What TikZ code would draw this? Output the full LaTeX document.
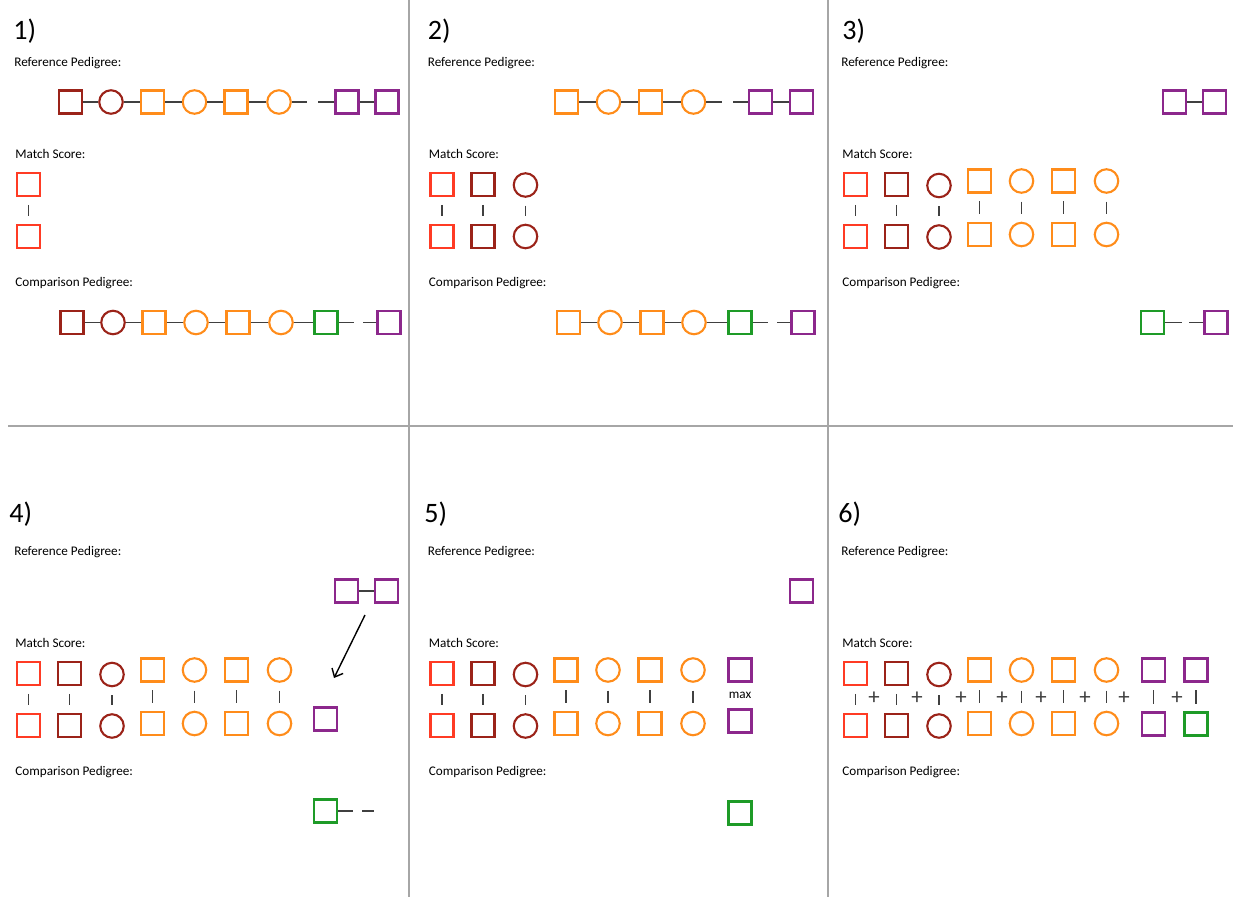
\documentclass[tikz,border=0pt]{standalone}
\usepackage{fontspec}
\setmainfont{Carlito}
\definecolor{pdred}{RGB}{255,59,36}
\definecolor{pddark}{RGB}{155,35,25}
\definecolor{pdorange}{RGB}{255,140,26}
\definecolor{pdpurple}{RGB}{140,40,140}
\definecolor{pdgreen}{RGB}{30,155,40}
\definecolor{pdgray}{RGB}{64,64,64}
\usetikzlibrary{arrows.meta,calc}

% the seven matched columns used from panel 3 on
\newcommand{\matchlist}{28.5/male/pdred/184.5/236.5, 69.5/male/pddark/184.5/236.5,
  112/female/pddark/185.5/237, 152.5/male/pdorange/181/234.5, 194.5/female/pdorange/181/234.5,
  236.5/male/pdorange/181/234.5, 279.5/female/pdorange/181/234.5}

\tikzset{
  male/.style={draw, rectangle, minimum size=0.46cm, inner sep=0pt, line width=1.2pt},
  female/.style={draw, circle, minimum size=0.47cm, inner sep=0pt, line width=1.2pt},
  link/.style={pdgray, line width=0.75pt},
  matchbar/.style={link, shorten <=4.5pt, shorten >=4.5pt},
  hdr/.style={font=\fontsize{7.5}{9}\selectfont, anchor=base west, inner sep=0pt},
  num/.style={font=\fontsize{16}{18}\selectfont, anchor=base west, inner sep=0pt},
  plussign/.style={font=\fontsize{13}{13}\selectfont, text=pdgray, inner sep=0pt},
  panel/.style={black!35, line width=0.6pt}
}

\begin{document}
\begin{tikzpicture}[x=0.02cm, y=-0.02cm]
  \useasboundingbox (0,0) rectangle (1233,897);
  % Panel frame
  \draw[panel] (409,0) -- (409,897);
  \draw[panel] (828,0) -- (828,897);
  \draw[panel] (8,426) -- (1233,426);

  % Headings of the six panels
  \foreach \p/\sx/\sy/\nx/\ny in {1/0/0/13/39, 2/413.5/0/14/39, 3/827/0/15/39,
                                  4/0/489/9/33, 5/413.5/489/10.5/33, 6/827/489/11/33} {
    \begin{scope}[shift={(\sx,\sy)}]
      \node[num] (n\p) at (\nx,\ny) {\p)};
      \node[hdr] (lr\p) at (14,66.5) {Reference Pedigree:};
      \node[hdr] (lm\p) at (15,158) {Match Score:};
      \node[hdr] (lc\p) at (15,286) {Comparison Pedigree:};
    \end{scope}
  }

  % Panel 1
  \foreach \x/\s/\c [count=\i] in {70.5/male/pddark, 111/female/pddark, 152.5/male/pdorange,
      194.5/female/pdorange, 236/male/pdorange, 279/female/pdorange, 347/male/pdpurple, 387/male/pdpurple}
    \node[\s, \c] (r1\i) at (\x,102) {};
  \foreach \a/\b in {1/2,2/3,3/4,4/5,5/6,7/8}
    \draw[link] (r1\a) -- (r1\b);
  \coordinate (r1x) at (307,102);
  \coordinate (r1y) at (318,102);
  \draw[link] (r16) -- (r1x);
  \draw[link] (r1y) -- (r17);
  \node[male, pdred] (m1t1) at (28.5,184.5) {};
  \node[male, pdred] (m1b1) at (28.5,236.5) {};
  \draw[matchbar] (m1t1) -- (m1b1);
  \foreach \x/\s/\c [count=\i] in {72/male/pddark, 113/female/pddark, 154/male/pdorange,
      196/female/pdorange, 238/male/pdorange, 281/female/pdorange, 326/male/pdgreen, 389/male/pdpurple}
    \node[\s, \c] (c1\i) at (\x,322.5) {};
  \foreach \a/\b in {1/2,2/3,3/4,4/5,5/6,6/7}
    \draw[link] (c1\a) -- (c1\b);
  \coordinate (c1x) at (354,322.5);
  \coordinate (c1y) at (363,322.5);
  \draw[link] (c17) -- (c1x);
  \draw[link] (c1y) -- (c18);

  % Panel 2
  \begin{scope}[shift={(413.5,0)}]
    \foreach \x/\s/\c [count=\i] in {153/male/pdorange, 195/female/pdorange, 237/male/pdorange,
        280/female/pdorange, 347/male/pdpurple, 388/male/pdpurple}
      \node[\s, \c] (r2\i) at (\x,102) {};
    \foreach \a/\b in {1/2,2/3,3/4,5/6}
      \draw[link] (r2\a) -- (r2\b);
    \coordinate (r2x) at (308.5,102);
    \coordinate (r2y) at (319.5,102);
    \draw[link] (r24) -- (r2x);
    \draw[link] (r2y) -- (r25);
    \foreach \x/\s/\c/\yt/\yb [count=\i] in {28.5/male/pdred/184.5/236.5,
        69.5/male/pddark/184.5/236.5, 112/female/pddark/185/236.5} {
      \node[\s, \c] (m2t\i) at (\x,\yt) {};
      \node[\s, \c] (m2b\i) at (\x,\yb) {};
      \draw[matchbar] (m2t\i) -- (m2b\i);
    }
    \foreach \x/\s/\c [count=\i] in {155/male/pdorange, 196.5/female/pdorange, 238.5/male/pdorange,
        280.5/female/pdorange, 326.5/male/pdgreen, 389.5/male/pdpurple}
      \node[\s, \c] (c2\i) at (\x,322.5) {};
    \foreach \a/\b in {1/2,2/3,3/4,4/5}
      \draw[link] (c2\a) -- (c2\b);
    \coordinate (c2x) at (354,322.5);
    \coordinate (c2y) at (363.5,322.5);
    \draw[link] (c25) -- (c2x);
    \draw[link] (c2y) -- (c26);
  \end{scope}

  % Match columns, panels 3 to 6
  \foreach \p/\sx/\sy in {3/827/0, 4/0/489, 5/413.5/489, 6/827/489} {
    \begin{scope}[shift={(\sx,\sy)}]
      \foreach \x/\s/\c/\yt/\yb [count=\i] in \matchlist {
        \node[\s, \c] (m\p t\i) at (\x,\yt) {};
        \node[\s, \c] (m\p b\i) at (\x,\yb) {};
        \draw[matchbar] (m\p t\i) -- (m\p b\i);
      }
    \end{scope}
  }

  % Panel 3
  \begin{scope}[shift={(827,0)}]
    \node[male, pdpurple] (r31) at (347.5,102) {};
    \node[male, pdpurple] (r32) at (387.5,102) {};
    \draw[link] (r31) -- (r32);
    \node[male, pdgreen] (c31) at (325.5,322.5) {};
    \node[male, pdpurple] (c32) at (389,322.5) {};
    \coordinate (c3x) at (355,322.5);
    \coordinate (c3y) at (362,322.5);
    \draw[link] (c31) -- (c3x);
    \draw[link] (c3y) -- (c32);
  \end{scope}

  % Panel 4
  \begin{scope}[shift={(0,489)}]
    \node[male, pdpurple] (r41) at (346.5,102) {};
    \node[male, pdpurple] (r42) at (386.5,102) {};
    \draw[link] (r41) -- (r42);
    \node[male, pdpurple] (m4b8) at (325.5,230) {};
    \coordinate (a4s) at (365,126);
    \coordinate (a4e) at (334,189);
    \draw[black, line width=0.8pt, -{Straight Barb[length=4pt,width=7pt]}] (a4s) -- (a4e);
    \node[male, pdgreen] (c41) at (325.5,322) {};
    \coordinate (c4x) at (353,322);
    \coordinate (c4y) at (362,322);
    \coordinate (c4z) at (374,322);
    \draw[link] (c41) -- (c4x);
    \draw[link] (c4y) -- (c4z);
  \end{scope}

  % Panel 5
  \begin{scope}[shift={(413.5,489)}]
    \node[male, pdpurple] (r51) at (388,102) {};
    \node[male, pdpurple] (m5t8) at (326.5,181) {};
    \node[male, pdpurple] (m5b8) at (326.5,232) {};
    \path (m5t8) -- node[font=\fontsize{7.5}{9}\selectfont, inner sep=0pt] (max5) {max} (m5b8);
    \node[male, pdgreen] (c51) at (326.5,324) {};
  \end{scope}

  % Panel 6
  \begin{scope}[shift={(827,489)}]
    \node[male, pdpurple] (m6t8) at (326.5,181) {};
    \node[male, pdpurple] (m6b8) at (326.5,235) {};
    \node[male, pdpurple] (m6t9) at (369,181) {};
    \node[male, pdgreen] (m6b9) at (369,235) {};
    \draw[matchbar] (m6t8) -- (m6b8);
    \draw[matchbar] (m6t9) -- (m6b9);
    \foreach \x [count=\i] in {47,90,134,175,214,258,297,350}
      \node[plussign] (p6\i) at (\x,209) {+};
  \end{scope}
\end{tikzpicture}
\end{document}
